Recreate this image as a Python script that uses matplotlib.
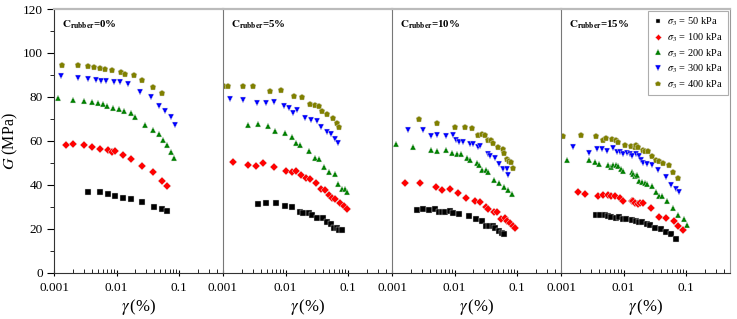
import numpy as np
import matplotlib
matplotlib.use('Agg')
import matplotlib.pyplot as plt
from matplotlib.ticker import MultipleLocator, LogLocator, FixedLocator, FixedFormatter

plt.rcParams['font.family'] = ['Liberation Serif', 'DejaVu Serif']
plt.rcParams['mathtext.fontset'] = 'stix'

# ---- data (strain in %, G in MPa) ----
panel_labels = ['0%', '5%', '10%', '15%']
stress_labels = ['50', '100', '200', '300', '400']

# C_rubber = 0%
x_c0_s50 = [0.00351, 0.00544, 0.0072, 0.00953, 0.01245, 0.0167, 0.0259, 0.0392, 0.0525, 0.063]
G_c0_s50 = [36.9, 36.5, 35.9, 35.1, 34.0, 33.7, 32.1, 30.1, 29.0, 28.0]
x_c0_s100 = [0.00155, 0.002, 0.00303, 0.00406, 0.00537, 0.0072, 0.00853, 0.00953, 0.01245, 0.0167,
             0.0252, 0.0387, 0.0525, 0.0637]
G_c0_s100 = [58.1, 58.7, 57.9, 57.0, 56.4, 55.8, 55.0, 55.6, 53.6, 51.9, 48.5, 45.6, 41.9, 39.3]
x_c0_s200 = [0.00116, 0.00203, 0.00303, 0.00406, 0.00499, 0.00599, 0.00703, 0.00885, 0.0109, 0.0132,
             0.0167, 0.02, 0.0289, 0.0377, 0.047, 0.0551, 0.0637, 0.0738, 0.0823]
G_c0_s200 = [79.3, 78.7, 78.1, 77.5, 77.1, 76.9, 75.7, 74.8, 74.3, 73.7, 72.9, 70.9, 67.1, 65.1, 63.1,
             60.5, 58.2, 54.9, 52.4]
x_c0_s300 = [0.00129, 0.00243, 0.00351, 0.00464, 0.00571, 0.00686, 0.00908, 0.0113, 0.015, 0.0235,
             0.0359, 0.0482, 0.06, 0.0728, 0.0843]
G_c0_s300 = [89.4, 88.6, 88.0, 87.8, 87.2, 87.4, 86.8, 86.6, 85.9, 82.1, 80.0, 75.7, 73.6, 70.8, 67.0]
x_c0_s400 = [0.00136, 0.00243, 0.00347, 0.00442, 0.00544, 0.00653, 0.00853, 0.01157, 0.01373, 0.01862,
             0.0252, 0.0387, 0.0531]
G_c0_s400 = [94.4, 94.7, 94.2, 93.8, 93.3, 92.7, 92.4, 91.2, 90.3, 90.0, 87.8, 84.5, 81.6]

# C_rubber = 5%
x_c5_s50 = [0.00364, 0.00481, 0.00711, 0.00988, 0.01262, 0.0167, 0.0191, 0.024, 0.0265, 0.0318,
            0.0396, 0.0459, 0.0531, 0.06, 0.0669, 0.072, 0.0793]
G_c5_s50 = [31.3, 31.8, 31.9, 30.5, 29.9, 27.8, 27.2, 27.0, 26.3, 24.9, 24.9, 22.9, 22.2, 20.4, 20.3,
            19.4, 19.3]
x_c5_s100 = [0.00146, 0.00252, 0.00334, 0.00431, 0.00645, 0.0101, 0.01245, 0.0144, 0.0177, 0.0215,
             0.0246, 0.031, 0.0373, 0.0432, 0.0493, 0.0543, 0.0622, 0.0738, 0.0853, 0.0941]
G_c5_s100 = [50.2, 48.9, 48.6, 49.8, 48.2, 46.5, 45.9, 46.2, 44.4, 43.0, 42.7, 40.9, 38.0, 37.5, 35.4,
             34.0, 33.6, 31.6, 30.5, 29.0]
x_c5_s200 = [0.00252, 0.00368, 0.00524, 0.00677, 0.00988, 0.01262, 0.01476, 0.0171, 0.0235, 0.0296,
             0.0347, 0.0411, 0.0499, 0.0607, 0.0694, 0.0793, 0.0875, 0.0964]
G_c5_s200 = [67.2, 67.5, 66.6, 64.6, 63.5, 61.7, 58.8, 58.1, 55.6, 52.2, 51.7, 48.3, 46.0, 44.8, 40.5,
             38.3, 38.3, 36.5]
x_c5_s300 = [0.00131, 0.0021, 0.00347, 0.00493, 0.00645, 0.00953, 0.0113, 0.0132, 0.0151, 0.0205,
             0.0252, 0.0314, 0.0373, 0.0459, 0.0537, 0.0607, 0.0677]
G_c5_s300 = [79.2, 78.7, 77.4, 77.2, 77.8, 75.7, 74.9, 72.6, 74.0, 70.4, 69.5, 68.9, 66.3, 63.9, 63.0,
             60.8, 59.0]
x_c5_s400 = [0.00104, 0.0012, 0.00205, 0.00296, 0.00571, 0.00843, 0.01373, 0.01817, 0.0243, 0.0299,
             0.0338, 0.0382, 0.0453, 0.0571, 0.0653, 0.072]
G_c5_s400 = [85.1, 85.1, 85.0, 85.1, 82.8, 83.3, 80.2, 80.1, 76.6, 76.1, 75.7, 73.7, 72.2, 70.4, 68.1,
             66.4]

# C_rubber = 10%
x_c10_s50 = [0.00252, 0.00318, 0.00387, 0.00493, 0.00557, 0.0063, 0.00711, 0.00833, 0.00929, 0.01157,
             0.0167, 0.0221, 0.0272, 0.0322, 0.0359, 0.0406, 0.0442, 0.0518, 0.0571, 0.0622]
G_c10_s50 = [28.7, 29.0, 28.6, 28.9, 27.7, 27.7, 27.7, 28.1, 27.1, 26.7, 25.8, 24.6, 23.7, 21.4, 21.4,
             21.1, 20.3, 18.8, 18.2, 17.8]
x_c10_s100 = [0.00159, 0.00278, 0.00512, 0.00622, 0.00833, 0.01143, 0.0153, 0.0208, 0.0255, 0.0314,
              0.0342, 0.0421, 0.0475, 0.0557, 0.063, 0.0677, 0.0766, 0.0843, 0.093]
G_c10_s100 = [40.9, 40.7, 38.8, 37.7, 38.1, 36.2, 34.0, 32.5, 32.2, 29.8, 29.0, 27.5, 27.4, 24.6, 25.1,
              23.3, 22.5, 21.4, 20.4]
x_c10_s200 = [0.00116, 0.00218, 0.00421, 0.00524, 0.0072, 0.00896, 0.0109, 0.01262, 0.0159, 0.0179,
              0.0226, 0.0246, 0.0272, 0.0318, 0.0342, 0.0427, 0.0505, 0.0614, 0.0711, 0.0823]
G_c10_s200 = [58.7, 57.1, 55.9, 55.6, 55.8, 54.4, 53.8, 53.9, 52.1, 51.2, 49.8, 49.2, 46.8, 46.8, 45.7,
              42.2, 40.7, 39.2, 37.7, 35.6]
x_c10_s300 = [0.00182, 0.00307, 0.00421, 0.00524, 0.0072, 0.00953, 0.01062, 0.01172, 0.01356, 0.0173,
              0.0195, 0.0238, 0.0255, 0.0342, 0.0373, 0.0437, 0.0505, 0.06, 0.0677, 0.0703]
G_c10_s300 = [65.0, 65.0, 62.3, 62.8, 62.0, 62.8, 60.2, 59.7, 59.7, 58.7, 58.7, 57.1, 57.8, 54.1, 53.0,
              52.4, 49.4, 47.1, 47.1, 44.4]
x_c10_s400 = [0.00268, 0.0053, 0.0101, 0.01459, 0.0193, 0.0232, 0.0275, 0.031, 0.0347, 0.0378, 0.0416,
              0.0487, 0.0585, 0.0622, 0.0685, 0.0747, 0.0793, 0.0865]
G_c10_s400 = [69.9, 67.9, 66.1, 66.1, 66.0, 62.5, 63.2, 62.6, 60.2, 60.5, 59.1, 57.3, 56.2, 54.6, 51.9,
              51.0, 50.6, 47.6]

# C_rubber = 15%
x_c15_s50 = [0.00364, 0.00421, 0.00506, 0.00564, 0.00622, 0.00755, 0.00843, 0.00988, 0.0109, 0.01356,
             0.0155, 0.0179, 0.02, 0.0238, 0.0268, 0.0322, 0.0396, 0.047, 0.0571, 0.0694]
G_c15_s50 = [26.3, 26.3, 26.1, 25.8, 25.4, 25.1, 25.4, 24.6, 24.6, 24.0, 23.6, 23.1, 23.1, 22.2, 21.6,
             20.4, 19.9, 18.7, 17.5, 15.5]
x_c15_s100 = [0.00188, 0.00243, 0.00396, 0.00476, 0.00557, 0.00637, 0.00728, 0.00875, 0.00988, 0.0134,
              0.01423, 0.01513, 0.0169, 0.0186, 0.0205, 0.0278, 0.0373, 0.0482, 0.063, 0.0738, 0.0896]
G_c15_s100 = [36.5, 36.0, 34.8, 35.3, 35.4, 34.8, 34.7, 34.2, 32.8, 32.5, 32.7, 31.9, 31.3, 31.5, 31.6,
              29.3, 25.5, 24.8, 23.4, 21.3, 19.5]
x_c15_s200 = [0.00123, 0.00275, 0.00347, 0.00411, 0.00564, 0.00622, 0.00686, 0.00755, 0.00823, 0.00918,
              0.00988, 0.01356, 0.01423, 0.01495, 0.0165, 0.0177, 0.0195, 0.0223, 0.0238, 0.0282,
              0.0326, 0.0368, 0.0406, 0.0493, 0.0614, 0.0747, 0.0907, 0.1025]
G_c15_s200 = [51.1, 51.4, 50.2, 49.5, 49.0, 48.2, 48.8, 48.8, 48.6, 47.0, 46.4, 45.8, 44.9, 44.0, 44.6,
              41.8, 41.3, 40.7, 40.4, 39.5, 36.5, 35.0, 34.8, 32.5, 29.3, 26.4, 24.6, 21.7]
x_c15_s300 = [0.00157, 0.00282, 0.00382, 0.00453, 0.00544, 0.00669, 0.00793, 0.00875, 0.00988, 0.01116,
              0.01245, 0.01373, 0.0155, 0.0175, 0.0191, 0.0205, 0.024, 0.0289, 0.0351, 0.0482, 0.0571,
              0.0677, 0.0756]
G_c15_s300 = [57.1, 54.4, 56.3, 56.2, 55.5, 56.7, 54.9, 54.7, 54.1, 54.6, 53.8, 52.9, 54.0, 53.0, 51.4,
              50.1, 49.5, 48.8, 46.8, 43.6, 40.0, 38.0, 36.6]
x_c15_s400 = [0.00109, 0.00205, 0.0036, 0.0047, 0.00518, 0.00661, 0.00747, 0.00813, 0.0105, 0.01306,
              0.015, 0.0159, 0.0171, 0.0203, 0.0223, 0.0243, 0.0285, 0.033, 0.0364, 0.0432, 0.0537,
              0.0622, 0.0747]
G_c15_s400 = [62.3, 62.6, 62.0, 60.2, 61.4, 60.8, 60.2, 59.3, 58.2, 57.8, 57.4, 58.1, 57.3, 55.9, 55.6,
              55.2, 53.2, 51.4, 50.8, 49.8, 48.8, 45.9, 42.9]

panels = [
    [(x_c0_s50, G_c0_s50), (x_c0_s100, G_c0_s100), (x_c0_s200, G_c0_s200),
     (x_c0_s300, G_c0_s300), (x_c0_s400, G_c0_s400)],
    [(x_c5_s50, G_c5_s50), (x_c5_s100, G_c5_s100), (x_c5_s200, G_c5_s200),
     (x_c5_s300, G_c5_s300), (x_c5_s400, G_c5_s400)],
    [(x_c10_s50, G_c10_s50), (x_c10_s100, G_c10_s100), (x_c10_s200, G_c10_s200),
     (x_c10_s300, G_c10_s300), (x_c10_s400, G_c10_s400)],
    [(x_c15_s50, G_c15_s50), (x_c15_s100, G_c15_s100), (x_c15_s200, G_c15_s200),
     (x_c15_s300, G_c15_s300), (x_c15_s400, G_c15_s400)],
]

markers = ['s', 'D', '^', 'v', 'p']
colors = ['#000000', '#ff0000', '#008000', '#0000ff', '#808000']
msizes = [4.2, 4.0, 4.6, 4.6, 5.0]

fig = plt.figure(figsize=(7.37, 3.19), dpi=100)
left, right = 54 / 737, 730 / 737
bottom, top = 1 - 272.7 / 319, 1 - 9 / 319
pw = (right - left) / 4

axes = []
for i in range(4):
    ax = fig.add_axes([left + i * pw, bottom, pw, top - bottom])
    axes.append(ax)
    for j, (xs, gs) in enumerate(panels[i]):
        ax.plot(xs, gs, linestyle='none', marker=markers[j], color=colors[j],
                markersize=msizes[j], markeredgecolor='#dddddd', markeredgewidth=0.3,
                label=r'$\sigma_3$ = ' + stress_labels[j] + ' kPa')
    ax.set_xscale('log')
    ax.set_xlim(0.001, 0.5)
    ax.set_ylim(0, 120)
    ax.xaxis.set_major_locator(FixedLocator([0.001, 0.01, 0.1]))
    ax.xaxis.set_major_formatter(FixedFormatter(['0.001', '0.01', '0.1']))
    ax.xaxis.set_minor_locator(LogLocator(base=10, subs=np.arange(2, 10)))
    ax.tick_params(axis='x', which='major', direction='inout', length=5, width=0.8, labelsize=9.5, pad=4)
    ax.tick_params(axis='x', which='minor', direction='in', length=3, width=0.6)
    ax.tick_params(axis='x', which='minor', labelbottom=False)
    ax.set_xlabel(r'$\gamma\,$(%)', fontsize=12, labelpad=2)
    ax.spines['top'].set_color('#bbbbbb')
    ax.spines['top'].set_linewidth(1.6)
    ax.spines['bottom'].set_color('#333333')
    ax.spines['right'].set_visible(False)
    ax.yaxis.set_major_locator(MultipleLocator(20))
    ax.yaxis.set_minor_locator(MultipleLocator(10))
    if i == 0:
        ax.spines['left'].set_color('#333333')
        ax.tick_params(axis='y', which='major', direction='out', length=5, width=0.8, labelsize=9.5, pad=3)
        ax.tick_params(axis='y', which='minor', direction='out', length=3, width=0.6)
        ax.set_ylabel(r'$G$ (MPa)', fontsize=11.5, labelpad=2)
    else:
        ax.spines['left'].set_color('#777777')
        ax.spines['left'].set_linewidth(0.8)
        ax.tick_params(axis='y', which='both', left=False, labelleft=False)
    ax.text(0.05, 0.965, r'$\mathbf{C}_{\mathbf{rubber}}$=' + panel_labels[i], transform=ax.transAxes,
            fontsize=7.8, fontweight='bold', va='top', ha='left')
    if i == 3:
        ax.spines['right'].set_visible(True)
        ax.spines['right'].set_color('#999999')

leg = axes[3].legend(loc='upper right', fontsize=7.5, frameon=True, fancybox=False,
                     edgecolor='#999999', borderaxespad=0.2, handletextpad=0.3,
                     labelspacing=0.3, borderpad=0.45, handlelength=1.1, markerscale=0.8)
leg.get_frame().set_linewidth(0.8)

fig.savefig('out.png', dpi=100)
